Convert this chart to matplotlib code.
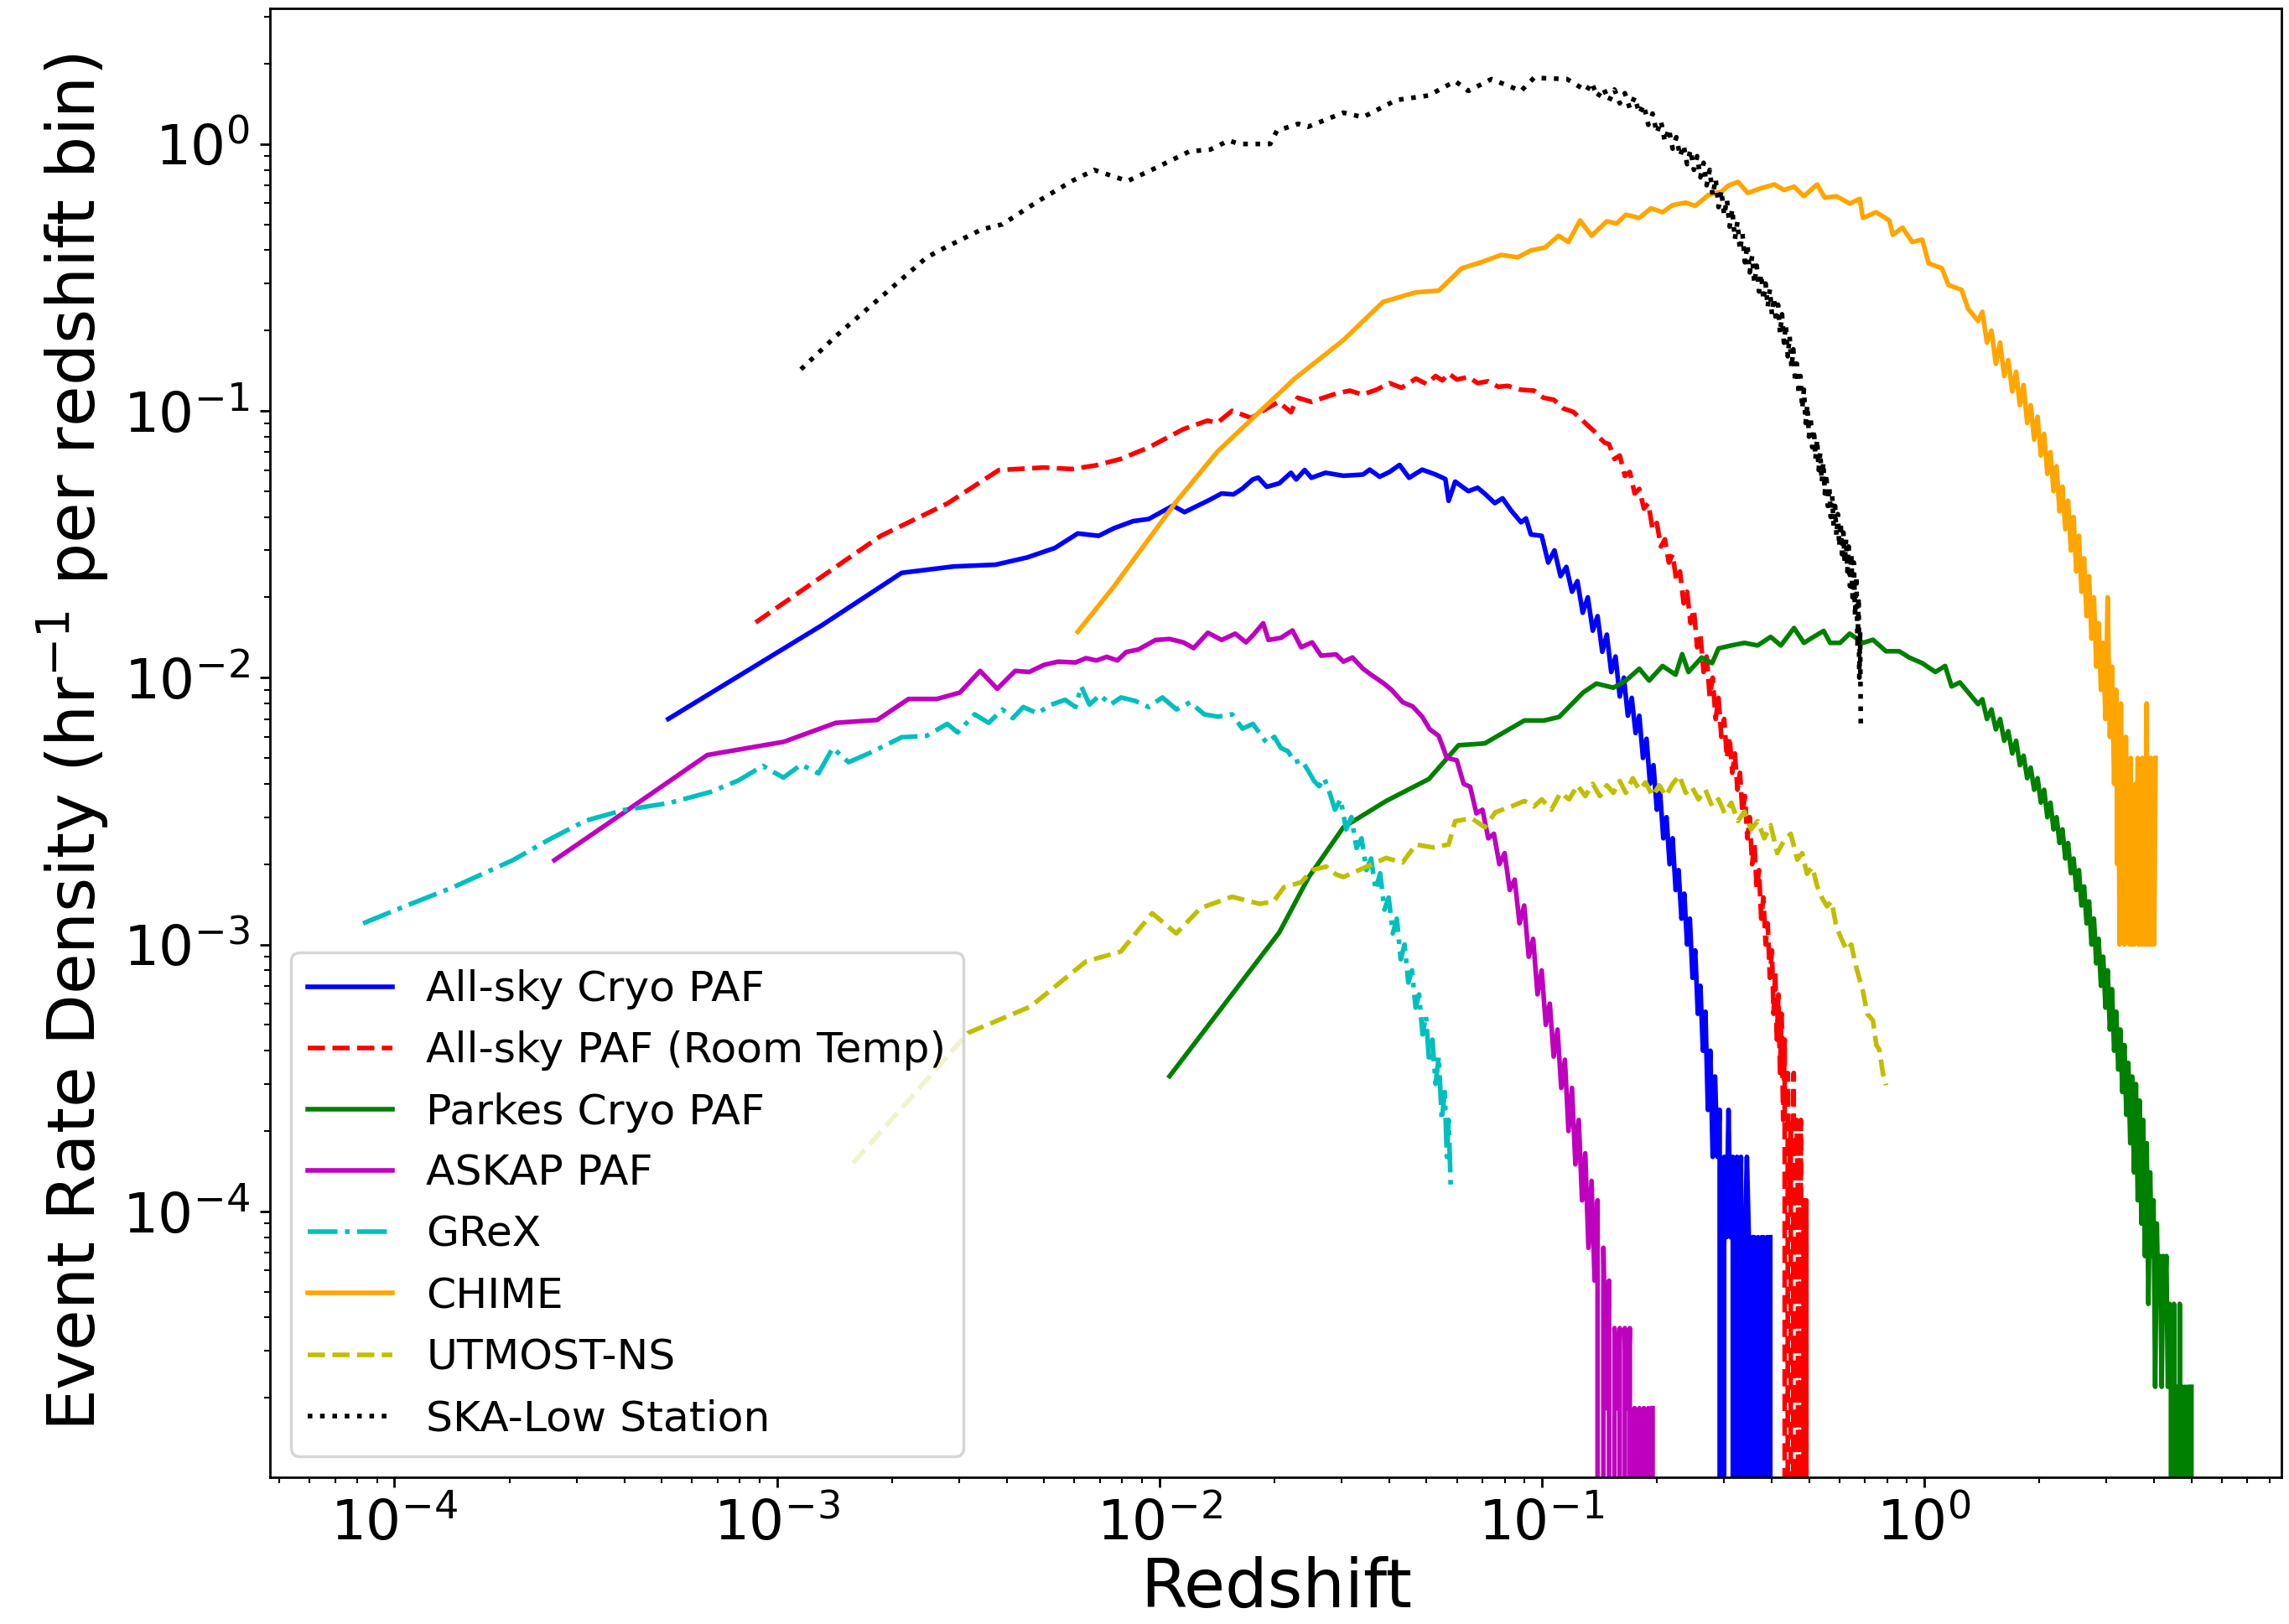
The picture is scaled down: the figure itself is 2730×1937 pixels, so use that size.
# Event rate density vs redshift for several FRB survey instruments
import matplotlib.pyplot as plt

# ---- data (redshift, events per hr per redshift bin) ----
# All-sky Cryo PAF
blue_z = [5.2e-4, 1.31e-3, 2.12e-3, 2.90e-3, 3.73e-3, 4.51e-3, 5.33e-3, 6.12e-3,
          6.94e-3, 7.61e-3, 8.55e-3, 9.38e-3, 1.086e-2, 1.164e-2, 1.355e-2, 1.455e-2,
          1.563e-2, 1.65e-2, 1.755e-2, 1.815e-2, 1.91e-2, 2.06e-2, 2.21e-2, 2.28e-2,
          2.40e-2, 2.50e-2, 2.72e-2, 3.03e-2, 3.41e-2, 3.55e-2, 3.77e-2, 4.0e-2,
          4.25e-2, 4.50e-2, 4.87e-2, 5.28e-2, 5.60e-2, 5.71e-2, 5.94e-2, 6.43e-2,
          6.8e-2, 7.1e-2, 7.54e-2, 7.9e-2, 8.32e-2, 8.83e-2, 9.1e-2, 9.37e-2,
          0.100, 0.104, 0.108, 0.112, 0.116, 0.120, 0.124, 0.128, 0.132, 0.136,
          0.140, 0.144, 0.148, 0.152, 0.156, 0.160, 0.164, 0.168, 0.172, 0.176,
          0.180, 0.184, 0.188, 0.192, 0.196, 0.200, 0.204, 0.208, 0.212, 0.216,
          0.220, 0.224, 0.228, 0.232, 0.236, 0.240, 0.244, 0.248, 0.252, 0.256,
          0.260, 0.264, 0.268, 0.272, 0.276, 0.280, 0.284, 0.288, 0.292, 0.296,
          0.300, 0.304, 0.308, 0.312, 0.316, 0.320, 0.324, 0.328, 0.332, 0.336,
          0.340, 0.344, 0.348, 0.352, 0.356, 0.360, 0.364, 0.368, 0.372, 0.376,
          0.380, 0.384, 0.388, 0.392, 0.396]
blue_rate = [7.0e-3, 1.57e-2, 2.47e-2, 2.61e-2, 2.65e-2, 2.82e-2, 3.06e-2, 3.47e-2,
             3.40e-2, 3.63e-2, 3.86e-2, 3.93e-2, 4.41e-2, 4.17e-2, 4.64e-2, 4.90e-2,
             4.86e-2, 5.11e-2, 5.53e-2, 5.62e-2, 5.19e-2, 5.35e-2, 5.86e-2, 5.53e-2,
             6.00e-2, 5.61e-2, 5.86e-2, 5.71e-2, 5.77e-2, 6.02e-2, 5.66e-2, 5.90e-2,
             6.27e-2, 5.61e-2, 6.02e-2, 5.77e-2, 5.55e-2, 4.60e-2, 5.43e-2, 5.00e-2,
             5.15e-2, 4.89e-2, 4.51e-2, 4.70e-2, 4.23e-2, 3.82e-2, 3.95e-2, 3.44e-2,
             3.4e-2, 2.7e-2, 3.0e-2, 2.4e-2, 2.6e-2, 2.1e-2, 2.3e-2, 1.75e-2, 2.0e-2, 1.5e-2,
             1.7e-2, 1.25e-2, 1.45e-2, 1.05e-2, 1.2e-2, 8.5e-3, 1.0e-2, 7.2e-3, 8.4e-3, 6.2e-3,
             7.2e-3, 5.0e-3, 5.9e-3, 4.0e-3, 4.7e-3, 3.2e-3, 3.7e-3, 2.5e-3, 3.0e-3, 2.0e-3,
             2.5e-3, 1.6e-3, 1.9e-3, 1.25e-3, 1.55e-3, 1.0e-3, 1.25e-3, 7.5e-4, 9.5e-4, 5.5e-4,
             7.0e-4, 4.0e-4, 5.6e-4, 2.4e-4, 4.0e-4, 1.6e-4, 3.2e-4, 1.6e-4, 2.4e-4, 0,
             1.6e-4, 8.0e-5, 2.4e-4, 8.0e-5, 1.6e-4, 0, 1.6e-4, 8.0e-5, 1.6e-4, 0,
             8.0e-5, 1.6e-4, 8.0e-5, 0, 8.0e-5, 8.0e-5, 0, 8.0e-5, 0, 8.0e-5,
             8.0e-5, 0, 8.0e-5, 0, 8.0e-5]

# All-sky PAF (Room Temp)
red_z = [8.8e-4, 1.87e-3, 2.79e-3, 3.81e-3, 5.0e-3, 5.91e-3, 6.85e-3, 7.92e-3,
         9.37e-3, 1.155e-2, 1.337e-2, 1.42e-2, 1.55e-2, 1.74e-2, 1.91e-2, 2.05e-2,
         2.21e-2, 2.30e-2, 2.5e-2, 2.69e-2, 2.9e-2, 3.15e-2, 3.4e-2, 3.70e-2,
         4.0e-2, 4.3e-2, 4.69e-2, 5.0e-2, 5.28e-2, 5.5e-2, 5.71e-2, 6.0e-2,
         6.43e-2, 6.8e-2, 7.24e-2, 7.7e-2, 8.15e-2, 8.8e-2, 9.55e-2, 0.101,
         0.1076, 0.114, 0.121, 0.126, 0.131, 0.137, 0.142, 0.146,
         0.150, 0.155, 0.160, 0.165, 0.170, 0.175, 0.180, 0.185, 0.190, 0.195,
         0.200, 0.205, 0.210, 0.215, 0.220, 0.225, 0.230, 0.235, 0.240, 0.245,
         0.250, 0.255, 0.260, 0.265, 0.270, 0.275, 0.280, 0.285, 0.290, 0.295,
         0.300, 0.305, 0.310, 0.315, 0.320, 0.325, 0.330, 0.335, 0.340, 0.345,
         0.350, 0.355, 0.360, 0.365, 0.370, 0.375, 0.380, 0.385, 0.390, 0.395,
         0.400, 0.404, 0.408, 0.412, 0.416, 0.420, 0.424, 0.428, 0.432, 0.436,
         0.440, 0.444, 0.448, 0.452, 0.456, 0.460, 0.464, 0.468, 0.472, 0.476,
         0.480, 0.484, 0.488, 0.492, 0.494]
red_rate = [1.61e-2, 3.40e-2, 4.49e-2, 6.00e-2, 6.13e-2, 6.05e-2, 6.25e-2, 6.60e-2,
            7.28e-2, 8.53e-2, 9.19e-2, 9.02e-2, 1.00e-1, 9.4e-2, 1.02e-1, 1.08e-1,
            9.88e-2, 1.12e-1, 1.08e-1, 1.12e-1, 1.16e-1, 1.19e-1, 1.15e-1, 1.20e-1,
            1.27e-1, 1.22e-1, 1.32e-1, 1.26e-1, 1.35e-1, 1.30e-1, 1.38e-1, 1.31e-1,
            1.34e-1, 1.27e-1, 1.29e-1, 1.23e-1, 1.24e-1, 1.20e-1, 1.19e-1, 1.12e-1,
            1.10e-1, 1.02e-1, 9.9e-2, 9.4e-2, 8.9e-2, 8.4e-2, 7.9e-2, 7.6e-2,
            7.5e-2, 6.6e-2, 6.8e-2, 5.7e-2, 5.9e-2, 4.9e-2, 5.1e-2, 4.3e-2, 4.5e-2, 3.6e-2,
            3.8e-2, 3.1e-2, 3.3e-2, 2.7e-2, 2.9e-2, 2.3e-2, 2.5e-2, 1.9e-2, 2.1e-2, 1.6e-2,
            1.8e-2, 1.3e-2, 1.45e-2, 1.05e-2, 1.2e-2, 8.5e-3, 1.0e-2, 7.0e-3, 8.4e-3, 6.0e-3,
            7.0e-3, 5.0e-3, 6.0e-3, 4.4e-3, 5.2e-3, 3.8e-3, 4.4e-3, 3.1e-3, 3.6e-3, 2.5e-3,
            3.0e-3, 2.0e-3, 2.4e-3, 1.6e-3, 1.9e-3, 1.25e-3, 1.5e-3, 1.0e-3, 1.2e-3, 7.5e-4,
            9.5e-4, 5.5e-4, 8.0e-4, 4.4e-4, 6.5e-4, 3.3e-4, 5.5e-4, 2.2e-4, 4.4e-4, 0,
            3.3e-4, 1.1e-4, 2.2e-4, 0, 3.3e-4, 0, 2.2e-4, 1.1e-4, 0, 2.2e-4,
            0, 1.1e-4, 0, 1.1e-4, 0]

# Parkes Cryo PAF
green_z = [1.064e-2, 2.06e-2, 2.46e-2, 3.03e-2, 3.92e-2, 5.07e-2, 6.06e-2, 7.10e-2,
           9.01e-2, 0.1014, 0.111, 0.1285, 0.139, 0.154, 0.166, 0.180,
           0.191, 0.207, 0.224, 0.233, 0.242, 0.262, 0.279, 0.290,
           0.313, 0.339, 0.367, 0.397, 0.422, 0.457, 0.485, 0.514,
           0.546, 0.568, 0.603, 0.639, 0.692, 0.735, 0.795, 0.861,
           0.914, 0.989, 1.07, 1.135, 1.18, 1.24, 1.304, 1.384,
           1.42, 1.46, 1.50, 1.54, 1.58, 1.62, 1.66, 1.70, 1.74, 1.78,
           1.82, 1.86, 1.90, 1.94, 1.98, 2.02, 2.06, 2.10, 2.14, 2.18,
           2.22, 2.26, 2.30, 2.34, 2.38, 2.42, 2.46, 2.50, 2.54, 2.58,
           2.62, 2.66, 2.70, 2.74, 2.78, 2.82, 2.86, 2.90, 2.94, 2.98,
           3.02, 3.06, 3.10, 3.14, 3.18, 3.22, 3.26, 3.30, 3.34, 3.38,
           3.42, 3.46, 3.50, 3.54, 3.58, 3.62, 3.66, 3.70, 3.74, 3.78,
           3.82, 3.86, 3.90, 3.94, 3.98, 4.02, 4.06, 4.10, 4.14, 4.18,
           4.22, 4.26, 4.30, 4.34, 4.38, 4.42, 4.46, 4.50, 4.54, 4.58,
           4.62, 4.66, 4.70, 4.74, 4.78, 4.82, 4.86, 4.90, 4.95, 5.0]
green_rate = [3.21e-4, 1.11e-3, 1.79e-3, 2.75e-3, 3.45e-3, 4.17e-3, 5.58e-3, 5.67e-3,
              6.91e-3, 6.91e-3, 7.12e-3, 8.81e-3, 9.50e-3, 9.17e-3, 9.75e-3, 1.08e-2,
              9.75e-3, 1.106e-2, 1.026e-2, 1.225e-2, 1.05e-2, 1.19e-2, 1.133e-2, 1.287e-2,
              1.32e-2, 1.35e-2, 1.32e-2, 1.422e-2, 1.32e-2, 1.535e-2, 1.35e-2, 1.422e-2,
              1.497e-2, 1.35e-2, 1.35e-2, 1.462e-2, 1.35e-2, 1.387e-2, 1.256e-2, 1.256e-2,
              1.19e-2, 1.133e-2, 1.05e-2, 1.106e-2, 9.27e-3, 9.6e-3, 8.81e-3, 7.96e-3,
              8.3e-3, 7.0e-3, 7.6e-3, 6.4e-3, 7.0e-3, 5.8e-3, 6.3e-3, 5.2e-3, 5.8e-3, 4.7e-3,
              5.1e-3, 4.2e-3, 4.6e-3, 3.8e-3, 4.2e-3, 3.4e-3, 3.8e-3, 3.0e-3, 3.4e-3, 2.7e-3,
              3.0e-3, 2.4e-3, 2.7e-3, 2.1e-3, 2.4e-3, 1.85e-3, 2.1e-3, 1.6e-3, 1.9e-3, 1.4e-3,
              1.65e-3, 1.2e-3, 1.45e-3, 1.0e-3, 1.25e-3, 8.5e-4, 1.05e-3, 7.0e-4, 9.0e-4, 5.8e-4,
              8.0e-4, 4.8e-4, 6.8e-4, 4.0e-4, 5.6e-4, 3.4e-4, 4.8e-4, 2.8e-4, 4.2e-4, 2.3e-4,
              3.6e-4, 1.8e-4, 3.2e-4, 1.4e-4, 3.0e-4, 1.1e-4, 2.6e-4, 9.0e-5, 2.2e-4, 6.8e-5,
              1.8e-4, 4.5e-5, 1.4e-4, 6.8e-5, 1.1e-4, 2.2e-5, 9.0e-5, 4.5e-5, 6.8e-5, 2.2e-5,
              6.8e-5, 4.5e-5, 6.8e-5, 2.2e-5, 4.5e-5, 2.2e-5, 0, 4.5e-5, 0, 2.2e-5,
              0, 4.5e-5, 0, 2.2e-5, 0, 2.2e-5, 0, 2.2e-5, 0, 2.2e-5]

# ASKAP PAF
mag_z = [2.62e-4, 3.98e-4, 6.58e-4, 1.043e-3, 1.426e-3, 1.83e-3, 2.21e-3, 2.62e-3,
         3.01e-3, 3.40e-3, 3.77e-3, 4.20e-3, 4.57e-3, 5.0e-3, 5.44e-3, 6.04e-3,
         6.43e-3, 6.85e-3, 7.29e-3, 7.77e-3, 8.2e-3, 8.81e-3, 9.78e-3, 1.064e-2,
         1.156e-2, 1.23e-2, 1.34e-2, 1.456e-2, 1.58e-2, 1.686e-2, 1.758e-2, 1.87e-2,
         1.93e-2, 2.08e-2, 2.23e-2, 2.35e-2, 2.51e-2, 2.65e-2, 2.90e-2, 3.03e-2,
         3.2e-2, 3.41e-2, 3.6e-2, 3.85e-2, 4.05e-2, 4.33e-2, 4.6e-2, 4.87e-2,
         5.1e-2, 5.38e-2, 5.65e-2,
         0.0600, 0.0625, 0.0650, 0.0675, 0.0700, 0.0725, 0.0750, 0.0775, 0.0800, 0.0825,
         0.0850, 0.0875, 0.0900, 0.0925, 0.0950, 0.0975, 0.1000, 0.1025, 0.1050, 0.1075,
         0.1100, 0.1125, 0.1150, 0.1175, 0.1200, 0.1225, 0.1250, 0.1275, 0.1300, 0.1325,
         0.1350, 0.1375, 0.1400, 0.1425, 0.1450, 0.1475, 0.1500, 0.1525, 0.1550, 0.1575,
         0.1600, 0.1625, 0.1650, 0.1675, 0.1700, 0.1725, 0.1750, 0.1775, 0.1800, 0.1825,
         0.1850, 0.1875, 0.1900, 0.1925, 0.1950]
mag_rate = [2.07e-3, 3.12e-3, 5.13e-3, 5.75e-3, 6.77e-3, 6.94e-3, 8.32e-3, 8.32e-3,
            8.79e-3, 1.06e-2, 9.08e-3, 1.06e-2, 1.05e-2, 1.117e-2, 1.148e-2, 1.14e-2,
            1.183e-2, 1.16e-2, 1.197e-2, 1.16e-2, 1.248e-2, 1.274e-2, 1.384e-2, 1.396e-2,
            1.356e-2, 1.29e-2, 1.473e-2, 1.384e-2, 1.462e-2, 1.356e-2, 1.442e-2, 1.60e-2,
            1.384e-2, 1.41e-2, 1.503e-2, 1.30e-2, 1.356e-2, 1.209e-2, 1.222e-2, 1.148e-2,
            1.19e-2, 1.08e-2, 1.02e-2, 9.55e-3, 9.0e-3, 8.09e-3, 7.8e-3, 7.14e-3,
            6.4e-3, 6.05e-3, 5.0e-3,
            4.9e-3, 4.0e-3, 3.9e-3, 3.1e-3, 3.2e-3, 2.5e-3, 2.6e-3, 2.0e-3, 2.2e-3, 1.6e-3,
            1.75e-3, 1.2e-3, 1.4e-3, 9.0e-4, 1.05e-3, 6.5e-4, 8.0e-4, 5.0e-4, 6.0e-4, 3.8e-4,
            4.8e-4, 2.9e-4, 3.7e-4, 2.0e-4, 2.9e-4, 1.5e-4, 2.2e-4, 1.1e-4, 1.65e-4, 7.3e-5,
            1.3e-4, 5.5e-5, 1.1e-4, 0, 7.3e-5, 1.83e-5, 5.5e-5, 0, 3.65e-5, 1.83e-5,
            3.65e-5, 0, 3.65e-5, 1.83e-5, 3.65e-5, 0, 1.83e-5, 0, 1.83e-5, 0,
            1.83e-5, 0, 1.83e-5, 0, 1.83e-5]

# GReX
cyan_z = [8.28e-5, 1.064e-4, 1.426e-4, 2.04e-4, 2.56e-4, 3.16e-4, 3.98e-4, 5.23e-4,
          6.71e-4, 7.94e-4, 9.19e-4, 1.04e-3, 1.157e-3, 1.285e-3, 1.40e-3, 1.54e-3,
          1.76e-3, 2.12e-3, 2.46e-3, 2.79e-3, 2.97e-3, 3.29e-3, 3.58e-3, 3.89e-3,
          4.14e-3, 4.41e-3, 4.80e-3, 5.22e-3, 5.67e-3, 6.04e-3, 6.25e-3, 6.57e-3,
          7.0e-3, 7.45e-3, 7.94e-3, 8.63e-3, 9.38e-3, 1.019e-2, 1.109e-2, 1.205e-2,
          1.31e-2, 1.425e-2, 1.55e-2, 1.65e-2, 1.757e-2, 1.91e-2, 2.0e-2, 2.08e-2,
          2.17e-2, 2.26e-2, 2.36e-2, 2.46e-2, 2.54e-2, 2.62e-2, 2.70e-2, 2.78e-2,
          0.0288, 0.0298, 0.0308, 0.0318, 0.0328, 0.0338, 0.0348, 0.0358, 0.0368, 0.0378,
          0.0388, 0.0398, 0.0408, 0.0418, 0.0428, 0.0438, 0.0448, 0.0458, 0.0468, 0.0478,
          0.0488, 0.0498, 0.0508, 0.0518, 0.0528, 0.0538, 0.0548, 0.0558, 0.0565, 0.0571,
          0.0578]
cyan_rate = [1.20e-3, 1.39e-3, 1.64e-3, 2.07e-3, 2.49e-3, 2.91e-3, 3.19e-3, 3.39e-3,
             3.73e-3, 4.12e-3, 4.67e-3, 4.22e-3, 4.72e-3, 4.38e-3, 5.45e-3, 4.82e-3,
             5.24e-3, 5.98e-3, 6.05e-3, 6.71e-3, 6.23e-3, 7.29e-3, 6.77e-3, 7.60e-3,
             7.05e-3, 7.76e-3, 7.35e-3, 7.92e-3, 8.26e-3, 7.76e-3, 9.27e-3, 7.92e-3,
             8.61e-3, 7.92e-3, 8.43e-3, 8.19e-3, 7.76e-3, 8.43e-3, 7.60e-3, 8.09e-3,
             7.29e-3, 7.14e-3, 7.29e-3, 6.44e-3, 6.71e-3, 5.69e-3, 6.0e-3, 5.45e-3,
             5.3e-3, 4.82e-3, 4.9e-3, 4.44e-3, 4.1e-3, 3.92e-3, 4.2e-3, 3.76e-3,
             3.2e-3, 3.5e-3, 2.7e-3, 3.0e-3, 2.3e-3, 2.5e-3, 1.9e-3, 2.1e-3, 1.6e-3, 1.85e-3,
             1.35e-3, 1.5e-3, 1.1e-3, 1.25e-3, 8.8e-4, 1.0e-3, 7.2e-4, 8.0e-4, 5.8e-4, 6.5e-4,
             4.6e-4, 5.4e-4, 3.6e-4, 4.4e-4, 3.0e-4, 3.8e-4, 2.2e-4, 2.8e-4, 1.6e-4, 2.2e-4,
             1.26e-4]

# CHIME
orange_z = [6.12e-3, 7.60e-3, 1.107e-2, 1.42e-2, 2.26e-2, 3.03e-2, 3.85e-2, 4.69e-2,
            5.38e-2, 6.18e-2, 6.97e-2, 7.84e-2, 8.65e-2, 9.37e-2, 0.102, 0.1107,
            0.1175, 0.126, 0.135, 0.148, 0.157, 0.166, 0.180, 0.193,
            0.207, 0.220, 0.238, 0.252, 0.273, 0.296, 0.307, 0.326,
            0.346, 0.375, 0.406, 0.430, 0.457, 0.485, 0.525, 0.550,
            0.590, 0.639, 0.679, 0.692, 0.749, 0.811, 0.828, 0.878,
            0.931, 0.989, 1.028, 1.113, 1.158, 1.253, 1.304, 1.384,
            1.42, 1.46, 1.50, 1.54, 1.58, 1.62, 1.66, 1.70, 1.74, 1.78,
            1.82, 1.86, 1.90, 1.94, 1.98, 2.02, 2.06, 2.10, 2.14, 2.18,
            2.22, 2.26, 2.30, 2.34, 2.38, 2.42, 2.46, 2.50, 2.54, 2.58,
            2.62, 2.66, 2.70, 2.74, 2.78, 2.82, 2.86, 2.90, 2.94, 2.98,
            3.02, 3.06, 3.10, 3.14, 3.18, 3.20, 3.22, 3.245, 3.27, 3.295,
            3.32, 3.345, 3.37, 3.395, 3.42, 3.445, 3.47, 3.495, 3.52, 3.545,
            3.57, 3.595, 3.62, 3.645, 3.67, 3.695, 3.72, 3.745, 3.77, 3.795,
            3.82, 3.845, 3.87, 3.895, 3.92, 3.945, 3.97, 3.995, 4.03]
orange_rate = [1.485e-2, 2.19e-2, 4.56e-2, 7.04e-2, 1.32e-1, 1.84e-1, 2.56e-1, 2.78e-1,
               2.82e-1, 3.42e-1, 3.61e-1, 3.84e-1, 3.76e-1, 3.99e-1, 4.09e-1, 4.53e-1,
               4.29e-1, 5.17e-1, 4.53e-1, 5.13e-1, 5.03e-1, 5.43e-1, 5.28e-1, 5.74e-1,
               5.55e-1, 5.90e-1, 6.03e-1, 5.86e-1, 6.44e-1, 6.64e-1, 6.97e-1, 7.21e-1,
               6.55e-1, 6.83e-1, 7.05e-1, 6.72e-1, 6.92e-1, 6.37e-1, 7.05e-1, 6.29e-1,
               6.37e-1, 5.98e-1, 6.23e-1, 5.28e-1, 5.55e-1, 5.17e-1, 4.57e-1, 4.86e-1,
               4.29e-1, 4.38e-1, 3.57e-1, 3.42e-1, 2.96e-1, 2.84e-1, 2.41e-1, 2.17e-1,
               0.235, 0.18, 0.20, 0.15, 0.18, 0.135, 0.155, 0.118, 0.14, 0.105,
               0.125, 0.09, 0.105, 0.078, 0.095, 0.068, 0.082, 0.058, 0.07, 0.05,
               0.062, 0.042, 0.052, 0.036, 0.046, 0.030, 0.040, 0.025, 0.034, 0.021,
               0.028, 0.017, 0.024, 0.014, 0.02, 0.011, 0.016, 0.009, 0.0135, 0.007,
               0.020, 0.006, 0.011, 0.004, 0.009, 0.002, 0.007, 1.0e-3, 8.0e-3, 2.0e-3,
               5.0e-3, 1.0e-3, 6.0e-3, 2.0e-3, 4.0e-3, 1.0e-3, 5.0e-3, 1.0e-3, 3.0e-3, 1.0e-3,
               4.0e-3, 2.0e-3, 5.0e-3, 1.0e-3, 3.0e-3, 1.0e-3, 5.0e-3, 1.0e-3, 2.0e-3, 1.0e-3,
               8.0e-3, 1.0e-3, 4.0e-3, 1.0e-3, 5.0e-3, 1.0e-3, 3.0e-3, 1.0e-3, 5.0e-3]

# UTMOST-NS
yel_z = [1.585e-3, 3.16e-3, 4.60e-3, 6.44e-3, 7.93e-3, 9.58e-3, 1.108e-2, 1.283e-2,
         1.55e-2, 1.83e-2, 1.99e-2, 2.12e-2, 2.35e-2, 2.51e-2, 2.73e-2, 2.90e-2,
         3.03e-2, 3.41e-2, 3.92e-2, 4.33e-2, 4.69e-2, 5.2e-2, 5.71e-2, 5.94e-2,
         6.56e-2, 7.10e-2, 7.57e-2, 8.32e-2, 9.01e-2, 9.55e-2,
         0.100, 0.106, 0.112, 0.118, 0.124, 0.130, 0.136, 0.142, 0.148, 0.154,
         0.160, 0.166, 0.173, 0.180, 0.187, 0.195, 0.203, 0.211, 0.220, 0.229,
         0.238, 0.247, 0.257, 0.268, 0.279, 0.290, 0.301, 0.313, 0.326, 0.339,
         0.353, 0.367, 0.382, 0.397, 0.413, 0.430, 0.448, 0.466, 0.48, 0.494,
         0.51, 0.525, 0.54, 0.557, 0.573, 0.590, 0.608, 0.627, 0.645, 0.665,
         0.68, 0.692, 0.71, 0.735, 0.75, 0.764, 0.78, 0.795]
yel_rate = [1.52e-4, 4.66e-4, 5.85e-4, 8.65e-4, 9.40e-4, 1.31e-3, 1.10e-3, 1.37e-3,
            1.51e-3, 1.42e-3, 1.45e-3, 1.64e-3, 1.71e-3, 1.90e-3, 1.96e-3, 1.83e-3,
            1.79e-3, 1.93e-3, 2.11e-3, 2.03e-3, 2.37e-3, 2.31e-3, 2.37e-3, 2.90e-3,
            2.97e-3, 2.75e-3, 3.13e-3, 3.29e-3, 3.45e-3, 3.29e-3,
            3.5e-3, 3.2e-3, 3.7e-3, 3.5e-3, 3.95e-3, 3.6e-3, 4.0e-3, 3.6e-3, 3.95e-3, 3.7e-3,
            4.1e-3, 3.7e-3, 4.2e-3, 3.8e-3, 4.05e-3, 3.6e-3, 3.95e-3, 3.6e-3, 4.0e-3, 4.3e-3,
            3.7e-3, 3.9e-3, 3.5e-3, 3.8e-3, 3.3e-3, 3.5e-3, 3.1e-3, 3.4e-3, 2.9e-3, 3.15e-3,
            2.7e-3, 2.9e-3, 2.5e-3, 2.8e-3, 2.2e-3, 2.45e-3, 2.6e-3, 2.08e-3, 2.2e-3, 1.84e-3,
            1.95e-3, 1.66e-3, 1.5e-3, 1.39e-3, 1.45e-3, 1.16e-3, 1.05e-3, 9.52e-4, 1.0e-3, 8.18e-4,
            7.3e-4, 6.68e-4, 5.5e-4, 5.19e-4, 4.2e-4, 4.03e-4, 3.3e-4, 2.97e-4]

# SKA-Low Station
ska_z = [1.156e-3, 1.43e-3, 1.69e-3, 2.08e-3, 2.46e-3, 2.67e-3, 3.43e-3, 3.89e-3,
         4.80e-3, 5.91e-3, 6.76e-3, 8.26e-3, 9.77e-3, 1.20e-2, 1.36e-2, 1.52e-2,
         1.62e-2, 1.95e-2, 2.03e-2, 2.31e-2, 2.45e-2, 3.03e-2, 3.41e-2, 4.16e-2,
         5.07e-2, 5.94e-2, 6.43e-2, 7.39e-2, 8.83e-2, 9.55e-2, 0.1165, 0.131,
         0.135, 0.140, 0.145, 0.150, 0.155, 0.160, 0.165, 0.170, 0.175, 0.180,
         0.185, 0.190, 0.195, 0.200, 0.205, 0.210, 0.215, 0.220, 0.225, 0.230,
         0.235, 0.240, 0.245, 0.250, 0.255, 0.260, 0.265, 0.270, 0.275, 0.280,
         0.285, 0.290, 0.295, 0.300, 0.305, 0.310, 0.315, 0.320, 0.325, 0.330,
         0.335, 0.340, 0.345, 0.350, 0.355, 0.360, 0.365, 0.370, 0.375, 0.380,
         0.385, 0.390, 0.395, 0.400, 0.405, 0.410, 0.415, 0.420, 0.425, 0.430,
         0.435, 0.440, 0.445, 0.450, 0.455, 0.460, 0.465, 0.470, 0.475, 0.480,
         0.485, 0.490, 0.495, 0.500, 0.505, 0.510, 0.515, 0.520, 0.525, 0.530,
         0.535, 0.540, 0.545, 0.550, 0.555, 0.560, 0.565, 0.570, 0.575, 0.580,
         0.585, 0.590, 0.595, 0.600, 0.605, 0.610, 0.615, 0.620, 0.625, 0.630,
         0.635, 0.640, 0.645, 0.650, 0.655, 0.660, 0.665, 0.670, 0.674, 0.677,
         0.680, 0.683]
ska_rate = [0.143, 0.191, 0.235, 0.304, 0.375, 0.40, 0.478, 0.50,
            0.608, 0.726, 0.799, 0.726, 0.812, 0.938, 0.953, 1.03,
            1.0, 1.0, 1.12, 1.19, 1.16, 1.31, 1.26, 1.46,
            1.52, 1.72, 1.58, 1.75, 1.58, 1.77, 1.75, 1.58,
            1.70, 1.50, 1.62, 1.45, 1.60, 1.42, 1.55, 1.36, 1.50, 1.30,
            1.40, 1.18, 1.30, 1.10, 1.22, 1.02, 1.14, 0.96, 1.06, 0.90,
            0.99, 0.84, 0.95, 0.80, 0.90, 0.75, 0.85, 0.70, 0.80, 0.64,
            0.74, 0.58, 0.67, 0.54, 0.62, 0.49, 0.57, 0.44, 0.51, 0.40,
            0.46, 0.36, 0.42, 0.33, 0.38, 0.30, 0.35, 0.28, 0.325, 0.26,
            0.30, 0.245, 0.285, 0.23, 0.265, 0.215, 0.25, 0.195, 0.23, 0.18,
            0.21, 0.16, 0.19, 0.145, 0.17, 0.128, 0.15, 0.115, 0.135, 0.102,
            0.12, 0.09, 0.105, 0.08, 0.095, 0.073, 0.085, 0.066, 0.078, 0.06,
            0.07, 0.054, 0.064, 0.049, 0.058, 0.044, 0.052, 0.040, 0.048, 0.037,
            0.044, 0.034, 0.041, 0.031, 0.038, 0.029, 0.035, 0.027, 0.033, 0.025,
            0.031, 0.022, 0.029, 0.020, 0.027, 0.017, 0.024, 0.013, 0.020, 0.010,
            0.015, 0.0066]

labels = ['All-sky Cryo PAF', 'All-sky PAF (Room Temp)', 'Parkes Cryo PAF',
          'ASKAP PAF', 'GReX', 'CHIME', 'UTMOST-NS', 'SKA-Low Station']

# ---- figure ----
plt.rcParams['lines.linewidth'] = 1.6
fig = plt.figure(figsize=(10.92, 7.748), dpi=250)
ax = fig.add_axes([0.118, 0.0905, 0.8788, 0.9043])

# one line per instrument
ax.plot(blue_z, blue_rate, color='b', linestyle='-', label=labels[0])
ax.plot(red_z, red_rate, color='r', linestyle='--', label=labels[1])
ax.plot(green_z, green_rate, color='g', linestyle='-', label=labels[2])
ax.plot(mag_z, mag_rate, color='m', linestyle='-', label=labels[3])
ax.plot(cyan_z, cyan_rate, color='c', linestyle='-.', label=labels[4])
ax.plot(orange_z, orange_rate, color='orange', linestyle='-', label=labels[5])
ax.plot(yel_z, yel_rate, color='y', linestyle='--', label=labels[6])
ax.plot(ska_z, ska_rate, color='k', linestyle=':', label=labels[7])

# log-log axes
ax.set_xscale('log')
ax.set_yscale('log')
ax.set_xlim(4.73e-5, 8.61)
ax.set_ylim(1.01e-5, 3.22)

# labels and ticks
ax.set_xlabel('Redshift', fontsize=23, labelpad=1.5)
ax.set_ylabel('Event Rate Density (hr$^{-1}$ per redshift bin)', fontsize=22.8)
ax.tick_params(axis='both', which='major', labelsize=19)

# legend in the lower left corner
ax.legend(loc='lower left', fontsize=14.5)

fig.savefig('out.png', dpi=250)
